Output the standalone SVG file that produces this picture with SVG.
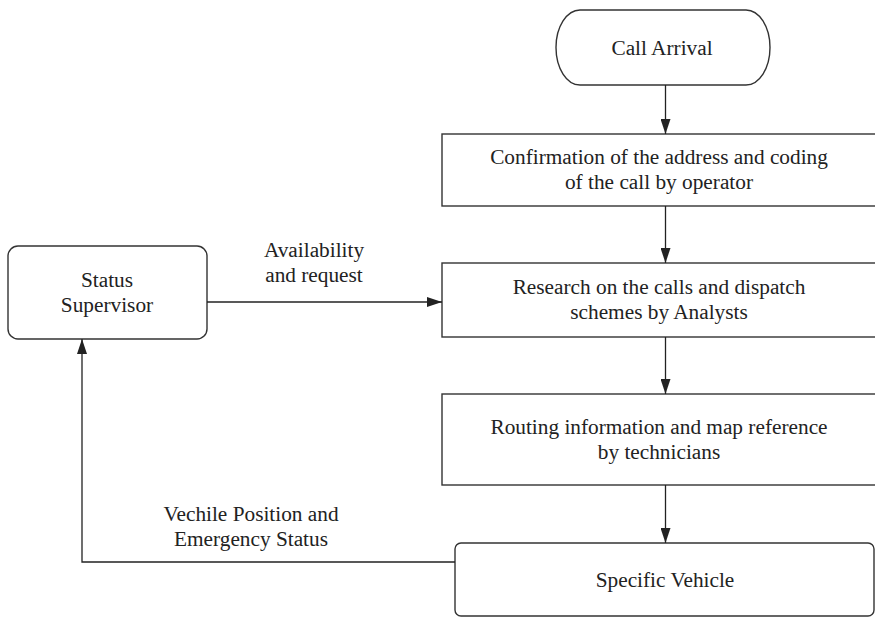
<svg xmlns="http://www.w3.org/2000/svg" width="875" height="617" viewBox="0 0 875 617">
  <defs>
    <marker id="arrow" viewBox="0 0 15 10" refX="15" refY="5" markerWidth="15" markerHeight="10" markerUnits="userSpaceOnUse" orient="auto">
      <path d="M0,0 L15,5 L0,10 Z" fill="#222"/>
    </marker>
    <style>
      .shape { fill: #fff; stroke: #333; stroke-width: 1.4; }
      .edge { fill: none; stroke: #222; stroke-width: 1.3; }
      text { font-family: "Liberation Serif", "Times New Roman", serif; font-size: 21.3px; fill: #222; text-anchor: middle; }
    </style>
  </defs>
  <rect width="875" height="617" fill="#fff"/>

  <g id="call-arrival">
    <rect class="shape" x="556" y="10" width="214" height="75" rx="24" ry="37.5"/>
    <text x="662" y="55">Call Arrival</text>
  </g>

  <g id="confirmation">
    <rect class="shape" x="442" y="134" width="446" height="72"/>
    <text x="659" y="164">Confirmation of the address and coding</text>
    <text x="659" y="189">of the call by operator</text>
  </g>

  <g id="research">
    <rect class="shape" x="442" y="263" width="446" height="74"/>
    <text x="659" y="294">Research on the calls and dispatch</text>
    <text x="659" y="319">schemes by Analysts</text>
  </g>

  <g id="routing">
    <rect class="shape" x="442" y="394" width="446" height="91"/>
    <text x="659" y="434">Routing information and map reference</text>
    <text x="659" y="459">by technicians</text>
  </g>

  <g id="specific-vehicle">
    <rect class="shape" x="455" y="543" width="419" height="73" rx="6"/>
    <text x="665" y="587">Specific Vehicle</text>
  </g>

  <g id="status-supervisor">
    <rect class="shape" x="8" y="246" width="199" height="93" rx="10"/>
    <text x="107" y="287">Status</text>
    <text x="107" y="312">Supervisor</text>
  </g>

  <g id="connectors">
    <line class="edge" x1="665.5" y1="85" x2="665.5" y2="134" marker-end="url(#arrow)"/>
    <line class="edge" x1="665.5" y1="206" x2="665.5" y2="263" marker-end="url(#arrow)"/>
    <line class="edge" x1="665.5" y1="337" x2="665.5" y2="394" marker-end="url(#arrow)"/>
    <line class="edge" x1="665.5" y1="485" x2="665.5" y2="543" marker-end="url(#arrow)"/>
    <line class="edge" x1="207" y1="302" x2="442" y2="302" marker-end="url(#arrow)"/>
    <polyline class="edge" points="455,562 82,562 82,339" marker-end="url(#arrow)"/>
    <text x="314" y="257">Availability</text>
    <text x="314" y="282">and request</text>
    <text x="251" y="521">Vechile Position and</text>
    <text x="251" y="546">Emergency Status</text>
  </g>
</svg>
